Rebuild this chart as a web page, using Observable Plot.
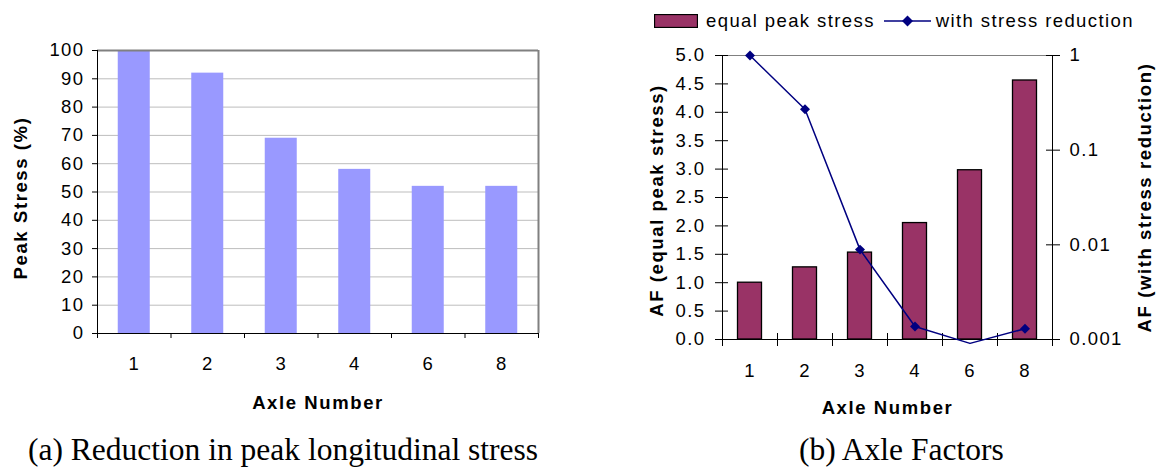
<!DOCTYPE html>
<html>
<head>
<meta charset="utf-8">
<script src="https://cdn.jsdelivr.net/npm/d3@7"></script>
<script src="https://cdn.jsdelivr.net/npm/@observablehq/plot@0.6"></script>
<style>
  html, body { margin: 0; padding: 0; background: #fff; }
  #wrap { position: relative; width: 1160px; height: 472px; overflow: hidden; background: #fff;
          font-family: "Liberation Sans", Arial, sans-serif; color: #000; }
  #wrap svg text { letter-spacing: 1.4px; }
  #wrap svg g[font-weight="bold"] text { letter-spacing: 1.6px; }
  .panel { position: absolute; top: 0; }
  .caption { position: absolute; font-family: "Liberation Serif", "Times New Roman", serif;
             font-size: 31.5px; white-space: nowrap; line-height: 1; }
  .legend { position: absolute; left: 654px; top: 12px; height: 18px; display: flex; align-items: center;
            font-size: 18.5px; letter-spacing: 1.4px; white-space: nowrap; }
  .legend .sw { display: inline-block; }
</style>
</head>
<body>
<div id="wrap"></div>
<script>
// ---------- data ----------
const axles = ["1", "2", "3", "4", "6", "8"];
const peakStress = [100, 92, 69, 58, 52, 52];                         // %  (panel a)
const afEqualPeak = [1.00, 1.27, 1.53, 2.05, 2.98, 4.56];              // panel b, bars (left axis)
const afStressReduction = [1, 0.27, 0.0089, 0.00137, 0.00091, 0.0013]; // panel b, line (right log axis)
const peakTicks = [0, 10, 20, 30, 40, 50, 60, 70, 80, 90, 100];
const afTicks = [0, 0.5, 1, 1.5, 2, 2.5, 3, 3.5, 4, 4.5, 5];
const logTicks = [0.001, 0.01, 0.1, 1];
const legendLabels = ["equal peak stress", "with stress reduction"];
const captions = ["(a) Reduction in peak longitudinal stress", "(b) Axle Factors"];
const xTitle = "Axle Number";
const yTitleA = "Peak Stress (%)";
const yTitleB1 = "AF (equal peak stress)";
const yTitleB2 = "AF (with stress reduction)";

// ---------- derived tables ----------
const rowsA = axles.map((a, i) => ({axle: a, i, v: peakStress[i]}));
const rowsB = axles.map((a, i) => ({axle: a, i, af: afEqualPeak[i], red: afStressReduction[i]}));
const bounds = d3.range(axles.length + 1);
const centers = axles.map((a, i) => i + 0.5);
const axleLabel = d => axles[Math.floor(d)];

const baseStyle = {background: "transparent", fontFamily: "Liberation Sans, Arial, sans-serif",
                   fontSize: "18.5px", color: "#000", overflow: "visible"};
const wrap = document.getElementById("wrap");
function place(svg, left) {
  const d = document.createElement("div");
  d.className = "panel";
  d.style.left = left + "px";
  d.appendChild(svg);
  wrap.appendChild(d);
}
const titleOpts = {text: d => d, fontWeight: "bold", textAnchor: "middle", lineAnchor: "middle"};

// ---------- panel (a) ----------
const plotA = Plot.plot({
  width: 560, height: 420,
  marginLeft: 97, marginRight: 22, marginTop: 50, marginBottom: 87,
  style: baseStyle,
  x: {domain: [0, axles.length], axis: null},
  y: {domain: [0, 100], axis: null},
  marks: [
    Plot.ruleY(peakTicks.slice(1, -1), {stroke: "#bdbdbd", strokeWidth: 1}),
    Plot.rectY(rowsA, {x1: "i", x2: d => d.i + 1, y: "v", fill: "#9999ff", insetLeft: 20.75, insetRight: 20.75}),
    Plot.ruleY([100], {stroke: "#808080", strokeWidth: 2}),
    Plot.ruleX([axles.length], {stroke: "#808080", strokeWidth: 2}),
    Plot.ruleX([0], {stroke: "#000"}),
    Plot.ruleY([0], {stroke: "#000"}),
    Plot.axisY({ticks: peakTicks, tickSize: 5, tickPadding: 8, tickFormat: d => String(d), label: null}),
    Plot.axisX({ticks: bounds, tickSize: 5, tickFormat: () => "", label: null}),
    Plot.axisX({ticks: centers, tickSize: 0, tickPadding: 23, tickFormat: axleLabel, label: null}),
    Plot.text([xTitle], {...titleOpts, frameAnchor: "bottom", dy: 70}),
    Plot.text([yTitleA], {...titleOpts, frameAnchor: "left", dx: -76, dy: 6, rotate: -90})
  ]
});
place(plotA, 0);

// ---------- panel (b): bars, left linear axis ----------
const dimsB = {width: 580, height: 420, marginLeft: 142, marginRight: 108, marginTop: 55, marginBottom: 81};
const plotB1 = Plot.plot({
  ...dimsB,
  style: baseStyle,
  x: {domain: [0, axles.length], axis: null},
  y: {domain: [0, 5], axis: null},
  marks: [
    Plot.ruleY([5], {stroke: "#808080", strokeWidth: 1}),
    Plot.rectY(rowsB, {x1: "i", x2: d => d.i + 1, y: "af", fill: "#993366", stroke: "#000", strokeWidth: 1.3,
                       insetLeft: 15.5, insetRight: 15.5}),
    Plot.ruleX([0], {stroke: "#000"}),
    Plot.ruleY([0], {stroke: "#000"}),
    Plot.axisY({ticks: afTicks, tickSize: 13, dx: 6, tickFormat: () => "", label: null}),
    Plot.axisY({ticks: afTicks, tickSize: 0, tickPadding: 17, tickFormat: d => d.toFixed(1), label: null}),
    Plot.axisX({ticks: bounds, tickSize: 13, dy: -6, tickFormat: () => "", label: null}),
    Plot.axisX({ticks: centers, tickSize: 0, tickPadding: 24, tickFormat: axleLabel, label: null}),
    Plot.text([xTitle], {...titleOpts, frameAnchor: "bottom", dy: 69}),
    Plot.text([yTitleB1], {...titleOpts, frameAnchor: "left", dx: -65, dy: 3, rotate: -90})
  ]
});
place(plotB1, 580);

// ---------- panel (b): line, right log axis ----------
const plotB2 = Plot.plot({
  ...dimsB,
  style: baseStyle,
  x: {domain: [0, axles.length], axis: null},
  y: {type: "log", domain: [0.001, 1], axis: null},
  marks: [
    Plot.ruleX([axles.length], {stroke: "#000"}),
    Plot.axisY({anchor: "right", ticks: logTicks, tickSize: 14, dx: -7, tickFormat: () => "", label: null}),
    Plot.axisY({anchor: "right", ticks: logTicks, tickSize: 0, tickPadding: 17, tickFormat: d => String(d), label: null}),
    Plot.line(rowsB, {x: d => d.i + 0.5, y: "red", stroke: "#000080", strokeWidth: 1.5}),
    Plot.dot(rowsB.filter(d => d.red >= 0.001), {x: d => d.i + 0.5, y: "red", symbol: "diamond2",
             fill: "#000080", stroke: "none", r: 4.5}),
    Plot.text([yTitleB2], {...titleOpts, frameAnchor: "right", dx: 93, dy: 0, rotate: -90})
  ]
});
place(plotB2, 580);

// ---------- legend ----------
const lg = document.createElement("div");
lg.className = "legend";
lg.innerHTML =
  `<svg class="sw" width="44" height="14"><rect x="0.5" y="0.5" width="43" height="13" fill="#993366" stroke="#000" stroke-width="1.3"/></svg>` +
  `<span style="margin-left:8px">${legendLabels[0]}</span>` +
  `<svg class="sw" width="47" height="14" style="margin-left:9px"><line x1="0" x2="47" y1="7" y2="7" stroke="#000080" stroke-width="1.5"/>` +
  `<path d="M23.5,1.5 L29,7 L23.5,12.5 L18,7 Z" fill="#000080"/></svg>` +
  `<span style="margin-left:5px">${legendLabels[1]}</span>`;
wrap.appendChild(lg);

// ---------- captions ----------
[[captions[0], 28], [captions[1], 799]].forEach(([t, x]) => {
  const c = document.createElement("div");
  c.className = "caption";
  c.style.left = x + "px";
  c.style.top = "434px";
  c.textContent = t;
  wrap.appendChild(c);
});
</script>
</body>
</html>
